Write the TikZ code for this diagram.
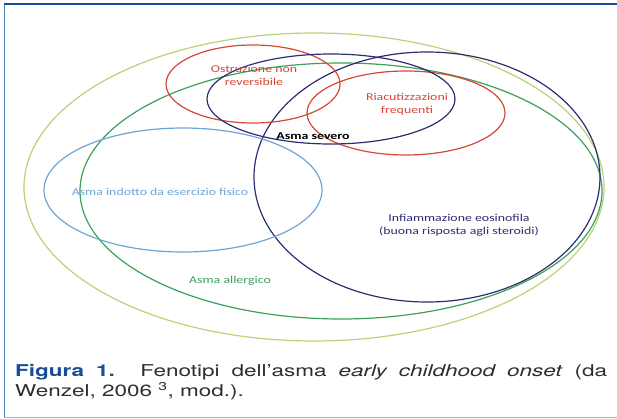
\documentclass[tikz,border=0pt]{standalone}
\usepackage{fontspec}
\setmainfont{TeX Gyre Heros}[FakeStretch=1.38]
\newfontfamily\labelfont{Carlito}[FakeStretch=1.32]
\usepackage{tikz}

\definecolor{framedark}{RGB}{25,75,150}
\definecolor{framemid}{RGB}{80,125,190}
\definecolor{framelight}{RGB}{150,180,220}
\definecolor{captionblue}{RGB}{25,75,150}
\definecolor{captiongrey}{RGB}{45,45,45}
\definecolor{outergreen}{RGB}{185,210,120}
\definecolor{allergreen}{RGB}{60,160,90}
\definecolor{navyline}{RGB}{45,45,115}
\definecolor{redline}{RGB}{215,70,55}
\definecolor{skyline}{RGB}{110,165,215}

\tikzset{
  venn/.style={line width=1.2pt},
  lbl/.style={font=\labelfont\fontsize{10.5}{13}\selectfont, align=center, inner sep=0pt}
}

\begin{document}
\begin{tikzpicture}[x=1pt, y=-1pt]
  \useasboundingbox (0,0) rectangle (617,419);
  % frame
  \draw[framelight, line width=0.8pt] (4,417) -- (617,417);
  \draw[framemid, line width=1.6pt] (4.5,4) -- (4.5,417);
  \draw[framedark, line width=2pt] (4,4) -- (617,4);
  % sets
  \draw[venn, outergreen] (314,187) ellipse (290 and 154);
  \draw[venn, allergreen] (341,191) ellipse (261 and 128);
  \draw[venn, navyline] (427,177) ellipse (173 and 125);
  \draw[venn, skyline] (183,190) ellipse (139 and 62);
  \draw[venn, redline] (253,84) ellipse (87 and 39);
  \draw[venn, redline] (406,113) ellipse (99 and 42);
  \draw[venn, navyline] (331,99) ellipse (124 and 45);
  % labels
  \node[lbl, redline] (ostr) at (254,75) {Ostruzione non\\reversibile};
  \node[lbl, redline] (riac) at (407,104) {Riacutizzazioni\\frequenti};
  \node[lbl, black, font=\labelfont\bfseries\fontsize{10.5}{13}\selectfont] (sev) at (313,136) {Asma severo};
  \node[lbl, skyline] (eser) at (160,192) {Asma indotto da esercizio fisico};
  \node[lbl, navyline] (eos) at (459,225) {Infiammazione eosinofila\\(buona risposta agli steroidi)};
  \node[lbl, allergreen] (allerg) at (230,281) {Asma allergico};
  % caption
  \node[anchor=north west, inner sep=0pt, text width=592pt, align=justify,
        font=\fontsize{16.3}{20}\selectfont, text=captiongrey] (cap) at (15,364)
    {\hyphenpenalty=10000 {\color{captionblue}\bfseries Figura 1.} Fenotipi dell’asma \emph{early childhood onset} (da\linebreak Wenzel, 2006~\textsuperscript{3}, mod.).};
\end{tikzpicture}
\end{document}
